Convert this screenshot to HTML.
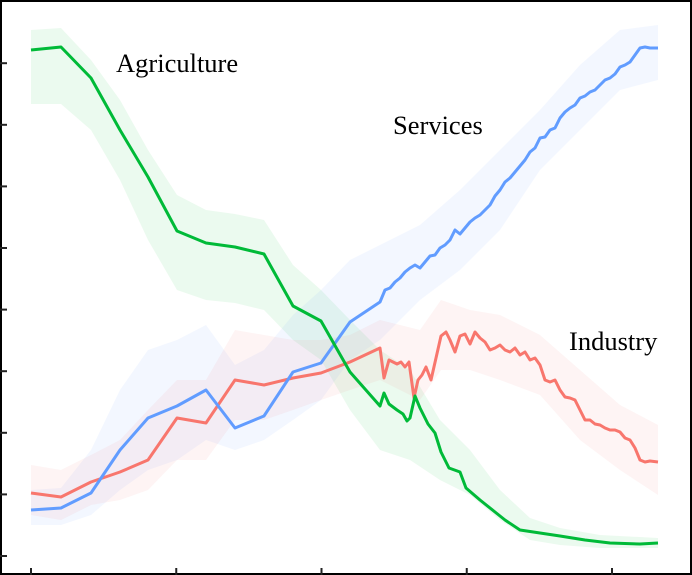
<!DOCTYPE html>
<html><head><meta charset="utf-8"><style>
html,body{margin:0;padding:0;background:#fff}
svg{display:block}
</style></head><body>
<svg id="chart" width="692" height="575" viewBox="0 0 692 575" xmlns="http://www.w3.org/2000/svg">
<rect x="1" y="1" width="690" height="573" fill="#fff" stroke="#000" stroke-width="2"/>
<g id="bands"></g><g id="lines"></g><g id="ticks"></g>
<text x="116" y="72" font-family="Liberation Serif, serif" font-size="26.5">Agriculture</text>
<text x="393" y="134" font-family="Liberation Serif, serif" font-size="26.5">Services</text>
<text x="569" y="350" font-family="Liberation Serif, serif" font-size="26.5">Industry</text>
</svg>
<script>
const xTicks=[0,145.25,290.5,435.75,581];
const yTicks=[0,61.6,123.2,184.8,246.4,308,369.6,431.2,492.8];
const agriX=[0,30,60,89,117,146,175,204,233,262,290,319,349,353,358,366,372,376,379,384,389,397,404,410,418,429,435,449,464,474,489,509,529,554,579,609,627];
const agriY=[506,509,478,426,379,325,313,309,302,250,235,184,150,163,152,146,142,135,138,160,148,132,123,104,88,84,68,56,44,36,26,23,20,16,13,12,13];
const servX=[0,30,60,89,117,146,175,204,233,262,290,319,349,354,359,364,369,374,379,384,389,394,399,404,409,414,419,424,429,434,439,444,449,454,459,464,469,474,479,484,489,494,499,504,509,514,519,524,529,534,539,544,549,554,559,564,569,574,579,584,589,594,599,604,609,614,619,627];
const servY=[46,48,63,106,138,150,166,128,140,184,193,234,254,266,268,274,278,284,288,291,288,294,300,301,308,311,316,326,322,328,334,338,341,346,351,360,366,374,378,384,390,396,404,408,418,419,426,428,438,444,448,451,458,460,464,466,471,476,478,482,489,491,494,501,508,509,508,508];
const indX=[0,30,60,89,117,146,175,204,233,262,290,319,349,353,358,362,366,370,374,378,383,387,391,395,400,405,410,415,419,424,429,434,439,444,449,454,459,464,469,474,479,484,489,494,499,504,509,514,519,524,529,534,539,544,549,554,559,564,569,574,579,584,589,594,599,604,609,614,619,627];
const indY=[63,59,74,84,96,138,133,176,171,178,183,194,208,178,196,194,192,194,189,194,158,176,181,189,176,198,220,224,216,204,220,222,212,224,218,214,206,208,211,206,204,208,201,204,196,198,191,176,174,176,166,159,158,156,146,136,136,132,131,128,126,126,124,118,116,108,96,94,95,94];
const agriBandX=[0,30,60,89,117,146,175,204,233,262,290,319,349,379,409,439,469,499,529,569,627];
const agriHi=[526,528,496,456,406,361,346,342,336,291,266,236,206,186,136,106,66,38,28,21,18];
const agriLo=[452,452,426,376,316,266,256,253,246,216,196,146,106,96,76,61,36,16,11,8,8];
const servBandX=[0,30,60,89,117,146,175,204,233,262,290,319,349,389,429,469,509,549,589,627];
const servHi=[66,68,106,166,206,216,231,191,206,241,266,296,311,331,366,406,446,491,526,531];
const servLo=[31,31,41,66,86,96,116,106,116,136,156,196,216,256,286,326,386,426,466,476];
const indBandX=[0,30,60,89,117,146,175,204,233,262,290,319,349,389,410,439,469,509,549,589,627];
const indHi=[91,86,101,116,146,176,176,226,221,216,216,221,236,226,256,246,241,221,186,151,131];
const indLo=[41,36,51,56,66,96,96,136,136,146,156,166,176,156,186,186,176,161,116,86,61];

const NS='http://www.w3.org/2000/svg';
const sx=v=>31+v; const sy=v=>556-v;
function mk(t,a,p){const e=document.createElementNS(NS,t);for(const k in a)e.setAttribute(k,a[k]);p.appendChild(e);return e;}
function band(xs,hi,lo,color,op,name){
  let pts=xs.map((x,i)=>sx(x)+','+sy(hi[i]));
  for(let i=xs.length-1;i>=0;i--)pts.push(sx(xs[i])+','+sy(lo[i]));
  const e=mk('polygon',{points:pts.join(' '),fill:color,'fill-opacity':op},document.getElementById('bands'));
  
  
}
function line(xs,ys,color,name){
  const e=mk('polyline',{points:xs.map((x,i)=>sx(x)+','+sy(ys[i])).join(' '),fill:'none',stroke:color,'stroke-width':3,'stroke-linejoin':'round'},document.getElementById('lines'));
  
  
}
band(agriBandX,agriHi,agriLo,'#00ba38',0.08,'agriculture-band');
band(servBandX,servHi,servLo,'#619cff',0.08,'services-band');
band(indBandX,indHi,indLo,'#f8766d',0.08,'industry-band');
line(indX,indY,'#f8766d','industry-line');
line(servX,servY,'#619cff','services-line');
line(agriX,agriY,'#00ba38','agriculture-line');
const tg=document.getElementById('ticks');
xTicks.forEach(v=>{const e=mk('line',{x1:sx(v),x2:sx(v),y1:568,y2:575,stroke:'#222','stroke-width':2},tg);

});
yTicks.forEach(v=>{const e=mk('line',{x1:0,x2:7,y1:sy(v),y2:sy(v),stroke:'#222','stroke-width':2},tg);

});
</script>
</body></html>
